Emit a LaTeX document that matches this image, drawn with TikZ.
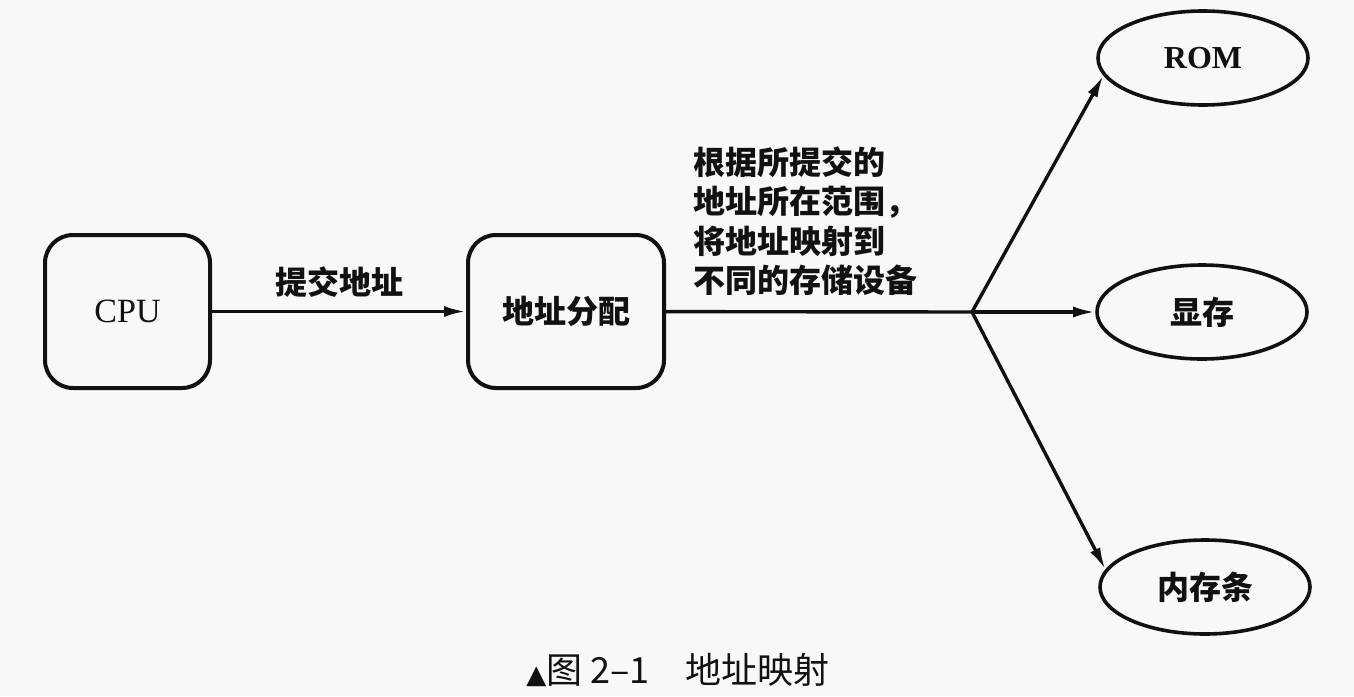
\documentclass[tikz,border=0pt]{standalone}
\usepackage{fontspec}
\setmainfont{Liberation Serif}
\newfontfamily\cjk{Noto Sans CJK SC}
\newfontfamily\dejavu{DejaVu Sans}
\usetikzlibrary{arrows.meta,shapes.geometric}
\definecolor{bg}{HTML}{F8F8F8}
\definecolor{ink}{HTML}{111111}
\tikzset{
  box/.style={draw=ink, line width=2pt, rounded corners=14pt, minimum height=76.5pt, inner sep=0pt},
  dev/.style={draw=ink, ellipse, line width=1.8pt, minimum width=105pt, minimum height=47pt, inner sep=0pt},
  conn/.style={draw=ink, line width=1.7pt},
  arr/.style={conn, -{Latex[length=11pt,width=5.5pt]}},
  zh/.style={font=\cjk\bfseries\fontsize{16}{19.75}\selectfont, text=ink},
  lat/.style={font=\fontsize{17}{19}\selectfont, text=ink}
}
\begin{document}
\begin{tikzpicture}[x=0.5pt,y=-0.5pt]
\fill[bg] (0,0) rectangle (1354,696);
\useasboundingbox (0,0) rectangle (1354,696);
\node[box, lat, minimum width=82.5pt] (cpu) at (127.5,311.5) {CPU};
\node[box, zh, minimum width=98pt] (addr) at (566,311.5) {地址分配};
\node[dev, lat, font=\bfseries\fontsize{16}{19}\selectfont] (rom) at (1203,58) {ROM};
\node[dev, zh] (vram) at (1202,312) {显存};
\node[dev, zh] (ram) at (1205,587) {内存条};
\coordinate (br) at (972,312);
\draw[arr] (cpu) -- node[zh, above=3pt] (lbl) {提交地址} (addr);
\draw[conn] (addr) -- (br);
\draw[arr] (br) -- (vram);
\draw[arr] (br) -- (rom.190);
\draw[arr] (br) -- (ram.170);
\node[zh, anchor=west, align=left, inner sep=0pt] (desc) at (693,221)
  {根据所提交的\\地址所在范围，\\将地址映射到\\不同的存储设备};
\node[font=\cjk\fontsize{18}{20}\selectfont, text=ink] (cap) at (678,670)
  {{\dejavu\fontsize{13}{14}\selectfont ▲}图 2–1\quad 地址映射};
\end{tikzpicture}
\end{document}
